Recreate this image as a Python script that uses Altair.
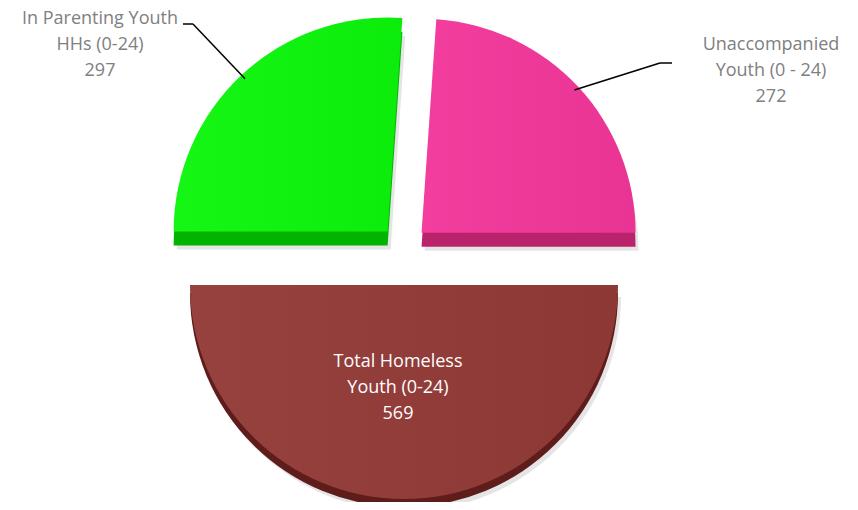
import math
import altair as alt
import pandas as pd

# ---- data ----
categories = ["Unaccompanied Youth (0 - 24)", "Total Homeless Youth (0-24)", "In Parenting Youth HHs (0-24)"]
label_names = ["Unaccompanied\nYouth (0 - 24)", "Total Homeless\nYouth (0-24)", "In Parenting Youth\nHHs (0-24)"]
values = [272, 569, 297]

# ---- style / layout ----
PAD_TOP = 12
TXT_SHIFT = 9  # baseline "top" vs "middle"
top_colors = {categories[0]: "#F2369A", categories[1]: "#923A36", categories[2]: "#0CF60C"}
side_colors = {categories[0]: "#B8236C", categories[1]: "#5E1C1B", categories[2]: "#02B302"}
text_colors = {categories[0]: "#808080", categories[1]: "#FFFFFF", categories[2]: "#808080"}
explode = {categories[0]: 24, categories[1]: 36, categories[2]: 24}
depth = {categories[0]: 14, categories[1]: 8, categories[2]: 14}
label_pos = {
    categories[0]: (763, 37 - PAD_TOP - TXT_SHIFT),
    categories[1]: (390, 354 - PAD_TOP - TXT_SHIFT),
    categories[2]: (92, 11 - PAD_TOP - TXT_SHIFT),
}
elbow = {categories[0]: (652, 55 - PAD_TOP, 664), categories[2]: (185, 16 - PAD_TOP, 175)}

W, H = 842, 494 - PAD_TOP
CX, CY = 396, 241 - PAD_TOP
R = 214
total = sum(values)
START = math.pi / 2 - 2 * math.pi * values[0] / total


def pick(mapping, default="null"):
    expr = default
    for k, v in mapping.items():
        vv = f"'{v}'" if isinstance(v, str) else str(v)
        expr = f"datum.cat === '{k}' ? {vv} : ({expr})"
    return expr


df = pd.DataFrame({
    "cat": categories,
    "name": label_names,
    "value": values,
    "order": list(range(len(values))),
})

base = (
    alt.Chart(df)
    .transform_joinaggregate(total="sum(value)")
    .transform_window(cum="sum(value)", sort=[alt.SortField("order", order="ascending")], frame=[None, 0])
    .transform_calculate(
        mid=f"{START} + 2*PI*(datum.cum - datum.value/2)/datum.total",
        ex=pick(explode),
        dep=pick(depth),
        topc=pick(top_colors),
        sidec=pick(side_colors),
        txtc=pick(text_colors),
        label="datum.name + '\\n' + datum.value",
        lx=pick({k: v[0] for k, v in label_pos.items()}),
        ly=pick({k: v[1] for k, v in label_pos.items()}),
        bx=pick({k: v[0] for k, v in elbow.items()}),
        by=pick({k: v[1] for k, v in elbow.items()}),
        endx=pick({k: v[2] for k, v in elbow.items()}),
    )
    .transform_calculate(
        px=f"{CX} + datum.ex*sin(datum.mid)",
        py=f"{CY} - datum.ex*cos(datum.mid)",
    )
    .transform_calculate(
        pyd="datum.py + datum.dep",
        sx=f"datum.px + {R - 5}*sin(datum.mid)",
        sy=f"datum.py - {R - 5}*cos(datum.mid)",
    )
)

theta = alt.Theta("value:Q", stack=True, scale=alt.Scale(range=[START, START + 2 * math.pi]))
order = alt.Order("order:Q")

shadow = base.mark_arc(radius=R, fill="#000000", opacity=0.10, xOffset=3, yOffset=4).encode(
    theta=theta, order=order,
    x=alt.X("px:Q", scale=None), y=alt.Y("pyd:Q", scale=None),
)
side = base.mark_arc(radius=R).encode(
    theta=theta, order=order,
    x=alt.X("px:Q", scale=None), y=alt.Y("pyd:Q", scale=None),
    color=alt.Color("sidec:N", scale=None),
)
top = base.mark_arc(radius=R).encode(
    theta=theta, order=order,
    x=alt.X("px:Q", scale=None), y=alt.Y("py:Q", scale=None),
    color=alt.Color("topc:N", scale=None),
)
sheen = base.mark_arc(
    radius=R,
    fill=alt.Gradient(
        gradient="linear", x1=0, x2=1, y1=0, y2=0,
        stops=[alt.GradientStop(color="rgba(255,255,255,0.04)", offset=0),
               alt.GradientStop(color="rgba(0,0,0,0.04)", offset=1)],
    ),
).encode(
    theta=theta, order=order,
    x=alt.X("px:Q", scale=None), y=alt.Y("py:Q", scale=None),
)

leader1 = base.transform_filter("datum.bx != null").mark_rule(color="#000000", strokeWidth=1.5).encode(
    x=alt.X("sx:Q", scale=None), x2="bx:Q",
    y=alt.Y("sy:Q", scale=None), y2="by:Q",
)
leader2 = base.transform_filter("datum.bx != null").mark_rule(color="#000000", strokeWidth=1.5).encode(
    x=alt.X("bx:Q", scale=None), x2="endx:Q",
    y=alt.Y("by:Q", scale=None), y2="by:Q",
)

labels = base.mark_text(
    font="Open Sans", fontSize=18, lineHeight=26, align="center", baseline="top", lineBreak="\n"
).encode(
    x=alt.X("lx:Q", scale=None), y=alt.Y("ly:Q", scale=None),
    text="label:N",
    color=alt.Color("txtc:N", scale=None),
)

chart = alt.layer(shadow, side, top, sheen, leader1, leader2, labels).properties(
    width=W, height=H, autosize=alt.AutoSizeParams(type="none"),
    padding={"top": PAD_TOP, "left": 0, "right": 0, "bottom": 0},
).configure_view(stroke=None)

chart.save("out.html", embed_options={"renderer": "svg", "actions": False})
